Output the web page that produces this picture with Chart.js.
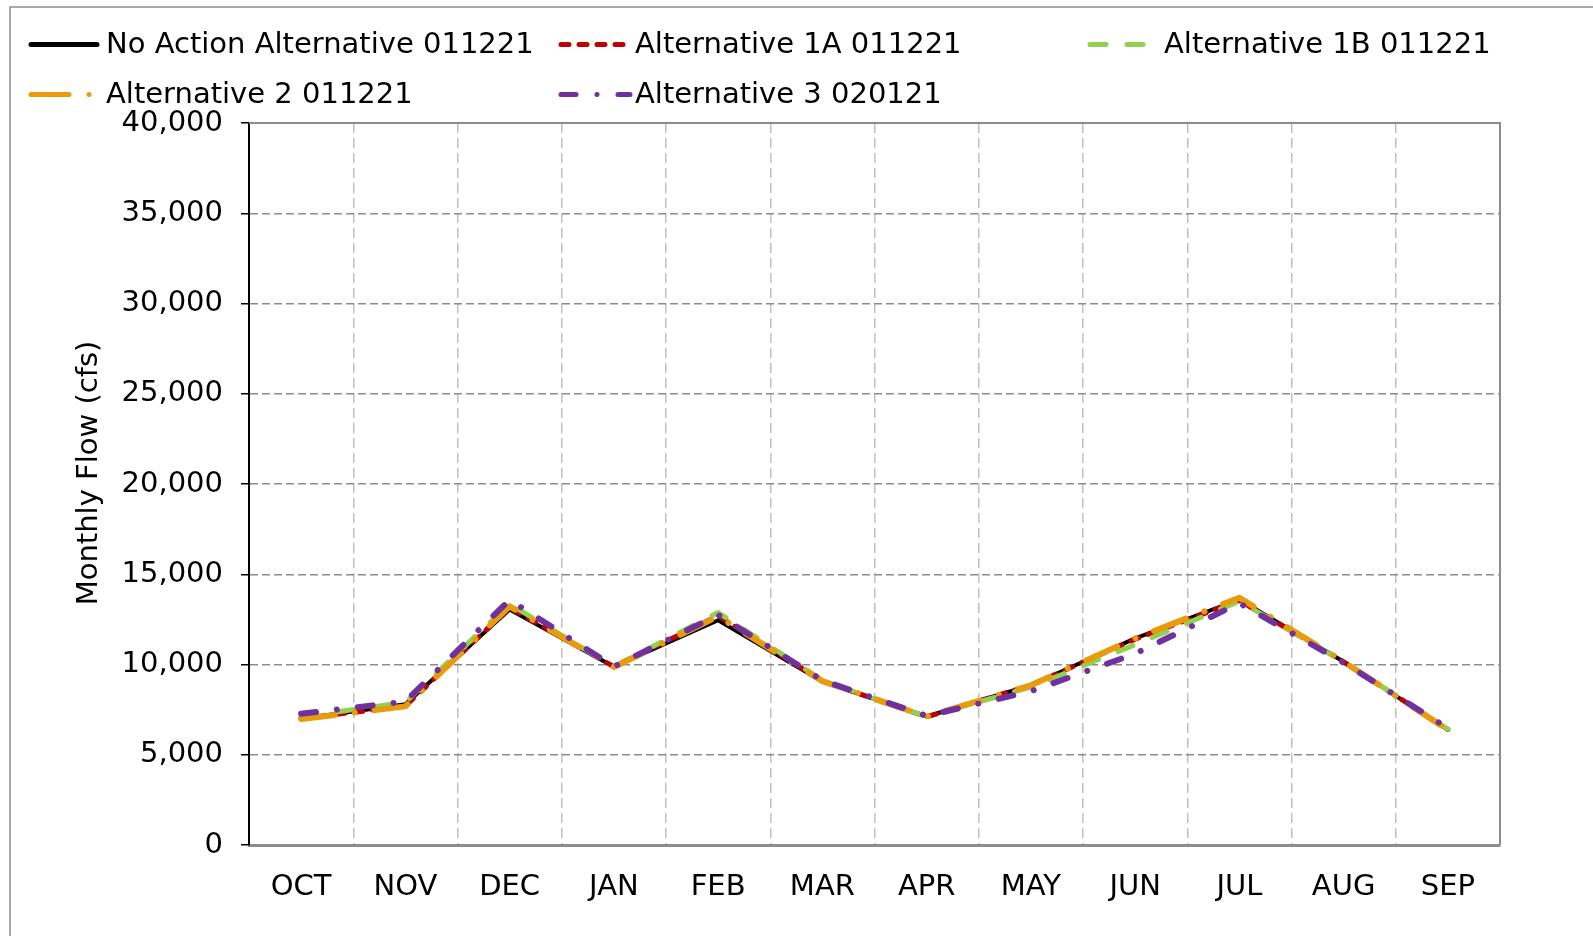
<!DOCTYPE html>
<html>
<head>
<meta charset="utf-8">
<script src="https://cdn.jsdelivr.net/npm/chart.js@4"></script>
<style>
  html, body { margin: 0; padding: 0; background: #fff; }
  #wrap { width: 1593px; height: 936px; }
</style>
</head>
<body>
<div id="wrap"><canvas id="flow-chart" width="1593" height="936"></canvas></div>
<script>
const months = ["OCT", "NOV", "DEC", "JAN", "FEB", "MAR", "APR", "MAY", "JUN", "JUL", "AUG", "SEP"];
const yTicks = [0, 5000, 10000, 15000, 20000, 25000, 30000, 35000, 40000];
const yTitle = "Monthly Flow (cfs)";

const noAction = [7000, 7800, 13050, 9880, 12450, 9050, 7120, 8850, 11450, 13600, 10150, 6380];
const alt1A = [7000, 7700, 13150, 9880, 12700, 9080, 7100, 8850, 11400, 13550, 10150, 6400];
const alt1B = [7100, 7900, 13350, 9880, 12880, 9120, 7100, 8750, 11100, 13500, 10150, 6420];
const alt2 = [6980, 7680, 13220, 9860, 12660, 9080, 7120, 8850, 11450, 13700, 10150, 6380];
const alt3 = [7270, 7950, 13580, 9880, 12750, 9120, 7150, 8520, 10600, 13400, 10100, 6470];

const colors = {
  black: "#000000",
  red: "#c00000",
  green: "#92d050",
  orange: "#e89b0c",
  purple: "#7030a0",
  grid: "#8c8c8c",
  gridLight: "#c0c0c0",
};

const FONT = "DejaVu Sans";

const series = [
  { label: "No Action Alternative 011221", data: noAction, color: colors.black, width: 4, dash: [] },
  { label: "Alternative 1A 011221", data: alt1A, color: colors.red, width: 5, dash: [8, 10] },
  { label: "Alternative 1B 011221", data: alt1B, color: colors.green, width: 5, dash: [16, 21] },
  { label: "Alternative 2 011221", data: alt2, color: colors.orange, width: 6, dash: [34, 20, 0.01, 20] },
  { label: "Alternative 3 020121", data: alt3, color: colors.purple, width: 6, dash: [15, 21, 0.01, 21] },
];

// legend slots: sample start/end, text x, row y
const legendSlots = [
  { x1: 31, x2: 97, tx: 106, y: 44.5, dash: [] },
  { x1: 561, x2: 627, tx: 635, y: 44.5, dash: [8, 10] },
  { x1: 1090, x2: 1143, tx: 1164, y: 44.5, dash: [16, 21] },
  { x1: 31, x2: 91, tx: 106, y: 94.5, dash: [38, 20, 0.01, 20] },
  { x1: 561, x2: 630, tx: 635, y: 94.5, dash: [15, 21, 0.01, 21] },
];

const framePlugin = {
  id: "frame",
  beforeDraw(chart) {
    const ctx = chart.ctx;
    ctx.save();
    ctx.strokeStyle = "#8c8c8c";
    ctx.lineWidth = 1.5;
    ctx.beginPath();
    ctx.moveTo(10, 936);
    ctx.lineTo(10, 7);
    ctx.lineTo(1593, 7);
    ctx.stroke();
    ctx.restore();
  },
  afterDraw(chart) {
    const { ctx, chartArea: a } = chart;
    ctx.save();
    ctx.strokeStyle = "#8c8c8c";
    ctx.lineWidth = 2;
    ctx.beginPath();
    ctx.moveTo(a.left, a.top);
    ctx.lineTo(a.right, a.top);
    ctx.lineTo(a.right, a.bottom);
    ctx.stroke();

    ctx.font = "29px '" + FONT + "'";
    ctx.fillStyle = "#000";

    // y axis title, sits a little above the plot's middle
    ctx.save();
    ctx.translate(89, 473);
    ctx.rotate(-Math.PI / 2);
    ctx.textAlign = "center";
    ctx.textBaseline = "middle";
    ctx.fillText(yTitle, 0, 0);
    ctx.restore();

    // legend
    ctx.textBaseline = "middle";
    ctx.textAlign = "left";
    series.forEach((s, i) => {
      const slot = legendSlots[i];
      ctx.save();
      ctx.strokeStyle = s.color;
      ctx.lineWidth = 5;
      ctx.lineCap = "round";
      ctx.setLineDash(slot.dash);
      ctx.beginPath();
      ctx.moveTo(slot.x1, slot.y);
      ctx.lineTo(slot.x2, slot.y);
      ctx.stroke();
      ctx.restore();
      ctx.fillText(s.label, slot.tx, slot.y + 1);
    });
    ctx.restore();
  },
};

new Chart(document.getElementById("flow-chart"), {
  type: "line",
  data: {
    labels: months,
    datasets: series.map((s, i) => ({
      label: s.label,
      data: s.data,
      order: series.length - i,
      borderColor: s.color,
      backgroundColor: s.color,
      borderWidth: s.width,
      borderDash: s.dash,
      borderCapStyle: s.dash.length ? "round" : "butt",
      borderJoinStyle: "round",
      pointRadius: 0,
      tension: 0,
      fill: false,
    })),
  },
  options: {
    responsive: false,
    animation: false,
    layout: { padding: { top: 123, right: 93, left: 0, bottom: 0 } },
    plugins: { legend: { display: false }, tooltip: { enabled: false } },
    scales: {
      x: {
        offset: true,
        grid: { offset: true, color: colors.gridLight, lineWidth: 1.5, drawTicks: false },
        border: { dash: [10, 5], color: colors.grid, width: 3 },
        ticks: { color: "#000", font: { family: FONT, size: 29 }, padding: 25, maxRotation: 0, autoSkip: false },
        afterFit: (scale) => { scale.height = 91; },
      },
      y: {
        min: yTicks[0],
        max: yTicks[yTicks.length - 1],
        afterBuildTicks: (scale) => { scale.ticks = yTicks.map((v) => ({ value: v })); },
        ticks: {
          color: "#000",
          font: { family: FONT, size: 29 },
          padding: 18,
          callback: (v) => v.toLocaleString("en-US"),
        },
        grid: { color: colors.grid, lineWidth: 1.5, tickColor: "#000", tickLength: 8, tickBorderDash: [] },
        border: { dash: [8, 4], color: "#000", width: 2 },
        afterFit: (scale) => { scale.width = 249; },
      },
    },
  },
  plugins: [framePlugin],
});
</script>
</body>
</html>
